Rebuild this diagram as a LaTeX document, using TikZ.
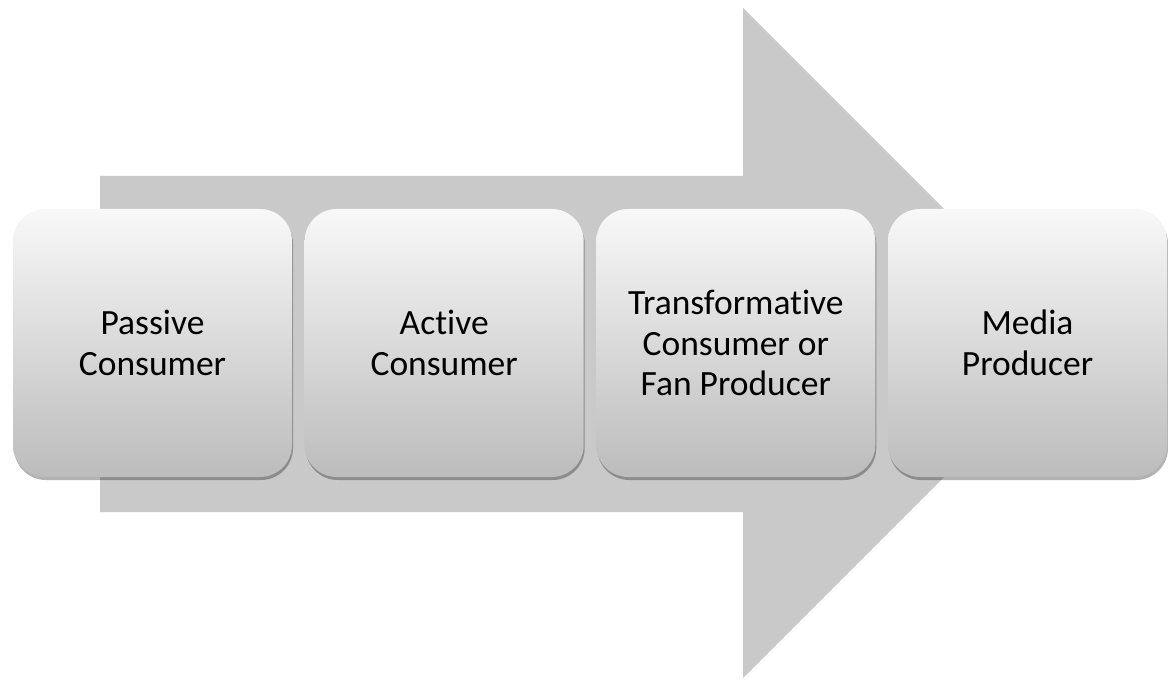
\documentclass[tikz,border=0pt]{standalone}
\usepackage{fontspec}
\setmainfont{Carlito}[Ligatures=NoCommon]
\usetikzlibrary{shadows}
\definecolor{arrowgray}{HTML}{C9C9C9}
\definecolor{boxtop}{HTML}{F8F8F8}
\definecolor{boxbot}{HTML}{BCBCBC}
\begin{document}
\begin{tikzpicture}[x=1pt,y=1pt,
  stage/.style={rounded corners=32pt, minimum width=279pt, minimum height=268pt,
    inner sep=0pt, top color=boxtop, bottom color=boxbot, align=center,
    font=\fontsize{35.5}{40.5}\selectfont,
    drop shadow={shadow xshift=1pt, shadow yshift=-3pt, opacity=0.3, fill=black}}]
\useasboundingbox (0,0) rectangle (1168,681);
% broad process arrow behind the stages
\fill[arrowgray] (100,505) -- (743,505) -- (743,673) -- (1078,338)
  -- (743,3) -- (743,169) -- (100,169) -- cycle;
% the four stages
\node[stage] (passive)  at (152.5,338) {Passive\\Consumer};
\node[stage] (active)   at (444.2,338) {Active\\Consumer};
\node[stage] (fan)      at (735.8,338) {Transformative\\Consumer or\\Fan Producer};
\node[stage] (producer) at (1027.5,338) {Media\\Producer};
\end{tikzpicture}
\end{document}
